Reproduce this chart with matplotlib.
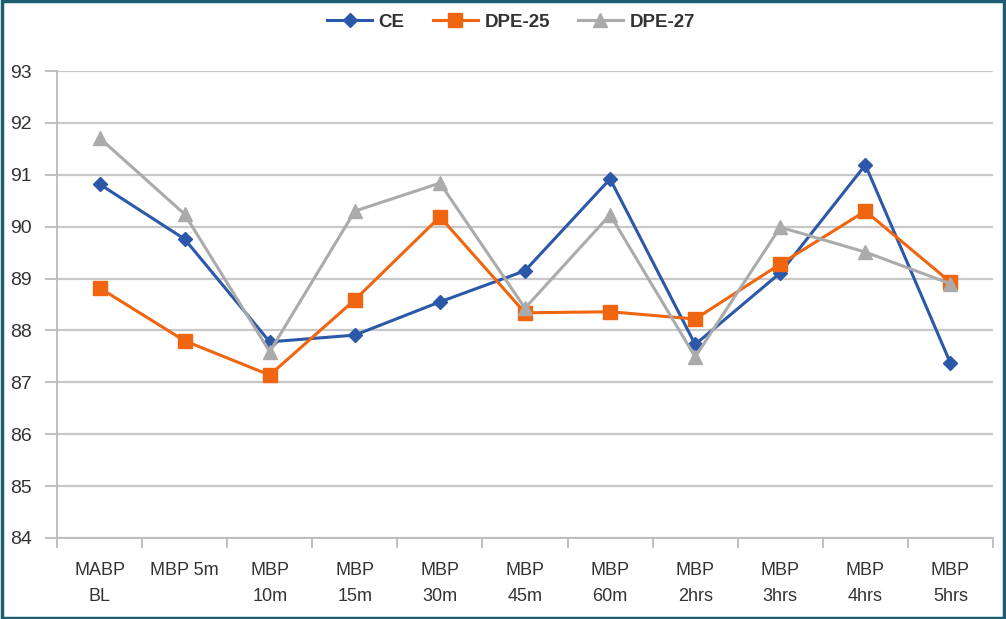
import matplotlib
matplotlib.use("Agg")
import matplotlib.pyplot as plt
from matplotlib.patches import Rectangle

categories = ["MABP\nBL", "MBP 5m", "MBP\n10m", "MBP\n15m", "MBP\n30m", "MBP\n45m",
              "MBP\n60m", "MBP\n2hrs", "MBP\n3hrs", "MBP\n4hrs", "MBP\n5hrs"]
ce = [90.82, 89.76, 87.78, 87.91, 88.55, 89.15, 90.92, 87.73, 89.11, 91.19, 87.37]
dpe25 = [88.82, 87.80, 87.14, 88.59, 90.19, 88.34, 88.36, 88.22, 89.28, 90.30, 88.93]
dpe27 = [91.71, 90.24, 87.59, 90.30, 90.84, 88.43, 90.23, 87.49, 89.99, 89.51, 88.90]
yticks = [84, 85, 86, 87, 88, 89, 90, 91, 92, 93]

plt.rcParams['font.family'] = ['Liberation Sans', 'DejaVu Sans']

fig = plt.figure(figsize=(10.06, 6.19), dpi=100)
ax = fig.add_axes([57/1006, 81/619, 936/1006, 467/619])

x = list(range(len(categories)))
ax.plot(x, ce, color="#2B58A8", lw=2.2, marker="D", ms=7.5, label="CE", zorder=3)
ax.plot(x, dpe25, color="#F0650F", lw=2.2, marker="s", ms=10, label="DPE-25", zorder=3)
ax.plot(x, dpe27, color="#ABABAB", lw=2.2, marker="^", ms=10, label="DPE-27", zorder=3)

ax.set_xlim(-0.5, len(categories) - 0.5)
ax.set_ylim(84, 93)
ax.set_yticks(yticks)
ax.set_yticklabels([str(v) for v in yticks], fontsize=14, color="#333333")
ax.yaxis.grid(True, color="#C8C8C8", lw=1.6)
ax.set_axisbelow(True)

ax.set_xticks([i - 0.5 for i in range(len(categories) + 1)], minor=False)
ax.set_xticklabels([])
ax.set_xticks(x, minor=True)
ax.set_xticklabels(categories, minor=True, fontsize=13, color="#333333", linespacing=1.75,
                   va="top")
ax.tick_params(axis="x", which="minor", length=0, pad=17)
ax.tick_params(axis="x", which="major", length=7, color="#BBBBBB", width=1.3)
ax.tick_params(axis="y", length=9, color="#BBBBBB", width=1.3, pad=9)

for s in ["top", "right"]:
    ax.spines[s].set_visible(False)
ax.spines["left"].set_color("#BBBBBB")
ax.spines["bottom"].set_color("#BBBBBB")
ax.spines["left"].set_linewidth(1.3)
ax.spines["bottom"].set_linewidth(1.3)

leg = fig.legend(loc="center", bbox_to_anchor=(0.508, 1 - 22/619), ncol=3, frameon=False,
                 fontsize=13.5, handlelength=2.4, columnspacing=1.5, handletextpad=0.35)
for t in leg.get_texts():
    t.set_color("#333333")
    t.set_fontweight("bold")

fig.patches.append(Rectangle((0.0015, 0.002), 0.997, 0.996, transform=fig.transFigure,
                             fill=False, edgecolor="#1D5E72", lw=2.5))

fig.savefig("out.png", dpi=100, facecolor="white")
